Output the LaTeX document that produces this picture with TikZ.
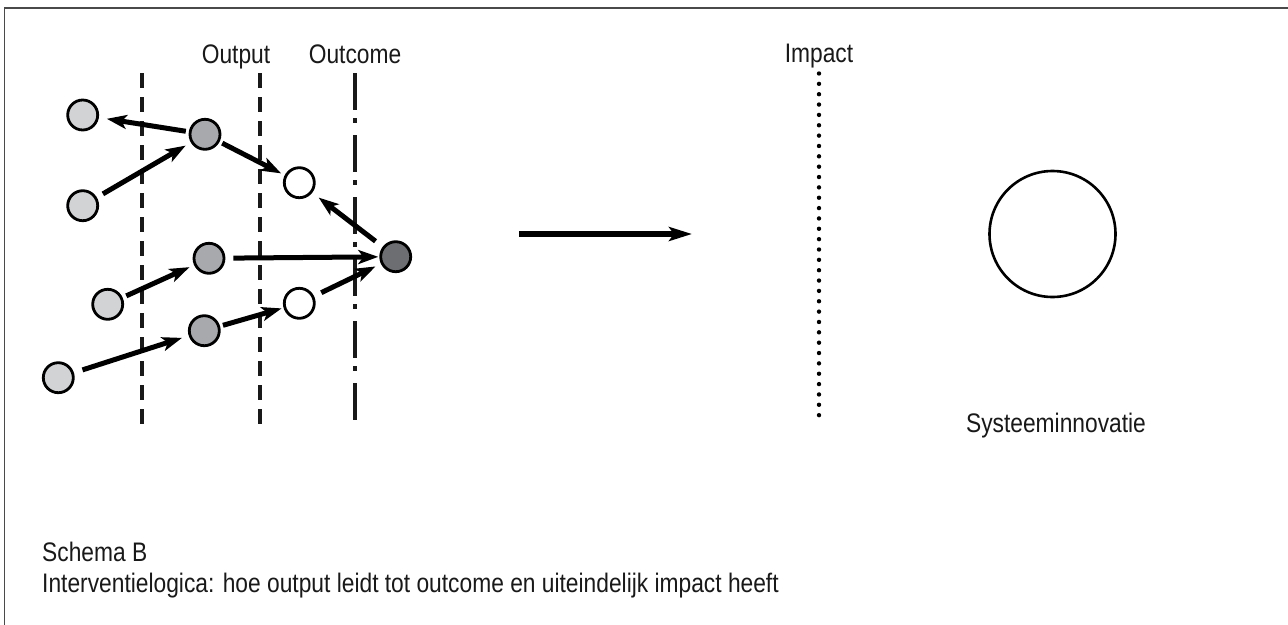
\documentclass[tikz,border=0pt]{standalone}
\usepackage{fontspec}
\setmainfont{Liberation Sans}[FakeStretch=0.85]
\usetikzlibrary{arrows.meta}
\definecolor{lightg}{HTML}{D1D3D4}
\definecolor{midg}{HTML}{A7A9AC}
\definecolor{darkg}{HTML}{6D6E71}
\definecolor{framec}{HTML}{4A4A4A}
\tikzset{
  dot/.style={circle, draw=black, line width=2.8pt, minimum size=30pt, inner sep=0pt},
  lgdot/.style={dot, fill=lightg},
  mgdot/.style={dot, fill=midg},
  dgdot/.style={dot, fill=darkg},
  wdot/.style={dot, fill=white},
  conn/.style={line width=5pt, -{Stealth[length=20pt,width=14pt,inset=5pt]}, shorten <=5pt, shorten >=5pt},
  lbl/.style={font=\fontsize{26.8}{32}\selectfont, text=black!90, inner sep=0pt},
  divline/.style={line width=4.6pt, black!90}
}
\begin{document}
\begin{tikzpicture}[x=1pt,y=-1pt]
\useasboundingbox (0,0) rectangle (1288,624);
\clip (0,0) rectangle (1288,624);
\fill[white] (0,0) rectangle (1288,624);
% frame
\draw[framec, line width=1.6pt] (4.5,700) -- (4.5,8) -- (1300,8);

% dividing lines
\draw[divline, dash pattern=on 15pt off 9pt] (142,73) -- (142,425);
\draw[divline, dash pattern=on 15pt off 9pt] (260,73) -- (260,425);
\draw[divline, dash pattern=on 37pt off 8pt on 5pt off 12pt] (355,73) -- (355,425);
\draw[line width=4.4pt, line cap=round, dash pattern=on 0pt off 10.353pt] (819,73.5) -- (819,425.5);

% labels
\node[lbl, anchor=base] (lout) at (236,63) {Output};
\node[lbl, anchor=base] (loc) at (355,63) {Outcome};
\node[lbl, anchor=base] (limp) at (819,62) {Impact};

% circles
\node[lgdot] (A) at (82.7,115) {};
\node[lgdot] (B) at (82.7,205.7) {};
\node[mgdot] (C) at (205,134.3) {};
\node[wdot]  (D) at (299.3,182.7) {};
\node[dgdot] (E) at (395.7,256.7) {};
\node[mgdot] (F) at (209,258.3) {};
\node[lgdot] (G) at (107.7,304.3) {};
\node[wdot]  (H) at (299.3,303.3) {};
\node[mgdot] (I) at (204.3,330.7) {};
\node[lgdot] (J) at (58.3,377.7) {};

% connectors
\draw[conn, shorten <=3pt, shorten >=8pt] (C) -- (A);
\draw[conn, shorten <=7pt, shorten >=6pt] (B) -- (C);
\draw[conn, shorten <=3pt, shorten >=4pt] (C) -- (D);
\draw[conn, shorten <=9pt, shorten >=8pt] (E) -- (D);
\draw[conn, shorten <=8pt, shorten >=1pt] (F) -- (E);
\draw[conn, shorten <=4pt, shorten >=5pt] (G) -- (F);
\draw[conn, shorten <=9pt, shorten >=7pt] (J) -- (I);
\draw[conn, shorten <=3pt, shorten >=2pt] (I) -- (H);
\draw[conn, shorten <=8pt, shorten >=6pt] (H) -- (E);

% big arrow
\coordinate (bs) at (519,234);
\coordinate (be) at (692,234);
\draw[line width=5.4pt, -{Stealth[length=23pt,width=14pt,inset=5pt]}] (bs) -- (be);

% system innovation
\node[circle, draw=black, line width=2.6pt, minimum size=126pt, inner sep=0pt] (S) at (1052.5,234) {};
\node[lbl, anchor=base] (ls) at (1056,432) {Systeeminnovatie};

% caption
\node[lbl, anchor=base west] (cap1) at (42,561) {Schema B};
\node[lbl, anchor=base west] (cap2) at (42,592) {Interventielogica: hoe output leidt tot outcome en uiteindelijk impact heeft};
\end{tikzpicture}
\end{document}
